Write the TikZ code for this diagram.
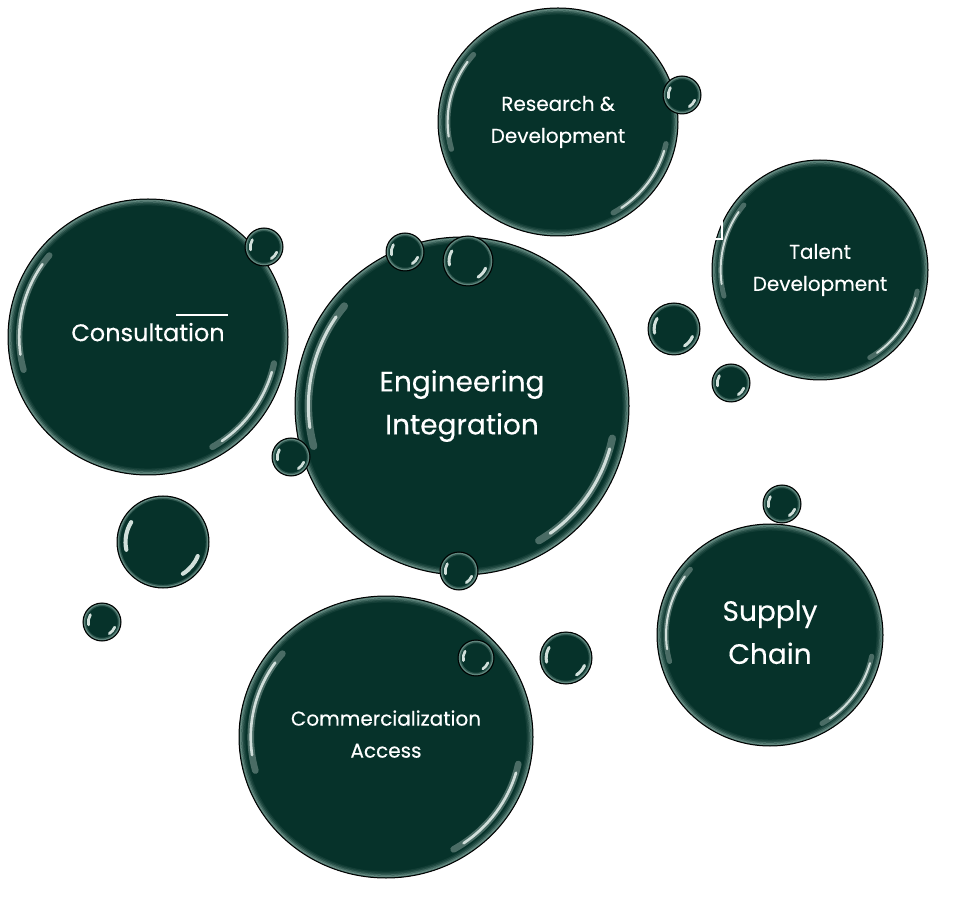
\documentclass[tikz,border=0pt]{standalone}
\usepackage{fontspec}
\setmainfont{Poppins}[FakeBold=0.3]
\usetikzlibrary{shapes.geometric}
\definecolor{bubblegreen}{HTML}{06322A}
\definecolor{rimglow}{HTML}{9CBDB4}
\definecolor{shine}{HTML}{E8F3EF}
\tikzset{
  bubble/.style={ellipse,draw=black,fill=bubblegreen,line width=1pt,inner sep=0pt,
                 text=white,align=center},
  gloss/.style={draw=shine,line cap=round},
  biglabel/.style={font=\fontsize{28}{43}\selectfont},
  midlabel/.style={font=\fontsize{24}{40}\selectfont},
  smalllabel/.style={font=\fontsize{20}{32}\selectfont},
}
\newcommand{\bubble}[6]{% #1 = name, #2 = centre, #3 = x radius, #4 = y radius, #5 = label style, #6 = label
  \node[bubble,#5,minimum width=2*#3,minimum height=2*#4] (#1) at (#2) {#6};
  \foreach \k/\op in {1.5/0.6,2.9/0.38,4.3/0.2,5.7/0.09}
    \draw[rimglow,opacity=\op,line width=1.5pt] (#2) ellipse[x radius=#3-\k,y radius=#4-\k];
  \draw[gloss,opacity=0.3,line width=0.045*#3] (#2) ++(140:{0.92*#3} and {0.92*#4})
     arc[start angle=140,end angle=195,x radius=0.92*#3,y radius=0.92*#4];
  \draw[gloss,opacity=0.85,line width=0.018*#3] (#2) ++(145:{0.92*#3} and {0.92*#4})
     arc[start angle=145,end angle=188,x radius=0.92*#3,y radius=0.92*#4];
  \draw[gloss,opacity=0.3,line width=0.045*#3] (#2) ++(-12:{0.92*#3} and {0.92*#4})
     arc[start angle=-12,end angle=-60,x radius=0.92*#3,y radius=0.92*#4];
  \draw[gloss,opacity=0.85,line width=0.018*#3] (#2) ++(-16:{0.92*#3} and {0.92*#4})
     arc[start angle=-16,end angle=-55,x radius=0.92*#3,y radius=0.92*#4];
}
\newcommand{\drop}[3]{% #1 = name, #2 = centre, #3 = radius
  \node[bubble,minimum size=2*#3] (#1) at (#2) {};
  \draw[rimglow,opacity=0.6,line width=1.2pt] (#2) circle[radius=#3-1.4];
  \draw[rimglow,opacity=0.25,line width=1.2pt] (#2) circle[radius=#3-2.6];
  \draw[gloss,opacity=0.9,line width=1.8+0.05*#3] (#2) ++(148:{#3-3-0.12*#3})
     arc[start angle=148,end angle=192,radius=#3-3-0.12*#3];
  \draw[gloss,opacity=0.9,line width=1.8+0.05*#3] (#2) ++(-22:{#3-3-0.12*#3})
     arc[start angle=-22,end angle=-58,radius=#3-3-0.12*#3];
}

\begin{document}
\begin{tikzpicture}[x=1pt,y=1pt]
  \path[use as bounding box,fill=white] (0,0) rectangle (963,903);
  % large bubbles
  \bubble{resdev}{558,781}{120}{114}{smalllabel}{Research \&\\Development}
  \bubble{talent}{820,633}{108}{110}{smalllabel}{Talent\\Development}
  \bubble{consult}{148,566}{140}{138}{midlabel,text depth=10pt}{Consultation}
  \bubble{eng}{462,497}{167}{169}{biglabel}{Engineering\\Integration}
  \bubble{supply}{770,268}{113}{111}{biglabel,text depth=6pt}{Supply\\Chain}
  \bubble{comm}{386,166}{147}{141}{smalllabel,text depth=6pt}{Commercialization\\Access}
  % small drops
  \drop{d1}{682,808}{19}
  \drop{d2}{264,656}{19}
  \drop{d3}{405,651}{19}
  \drop{d4}{468,642}{25}
  \drop{d5}{291,446}{19}
  \drop{d6}{459,332}{19}
  \drop{d7}{674,574}{26}
  \drop{d8}{731,520}{19}
  \drop{d9}{163,361}{46}
  \drop{d10}{102,281}{19}
  \drop{d11}{782,399}{19}
  \drop{d12}{476,245}{18}
  \drop{d13}{566,245}{26}
  % stray marks
  \draw[white,line width=1.5pt] ([xshift=28,yshift=22]consult.center) -- ([xshift=80,yshift=22]consult.center);
  \draw[white,line width=1.2pt] ([xshift=-98,yshift=55]talent.center) -- ([xshift=-98,yshift=31]talent.center)
     -- ([xshift=-107,yshift=31]talent.center);
\end{tikzpicture}
\end{document}
